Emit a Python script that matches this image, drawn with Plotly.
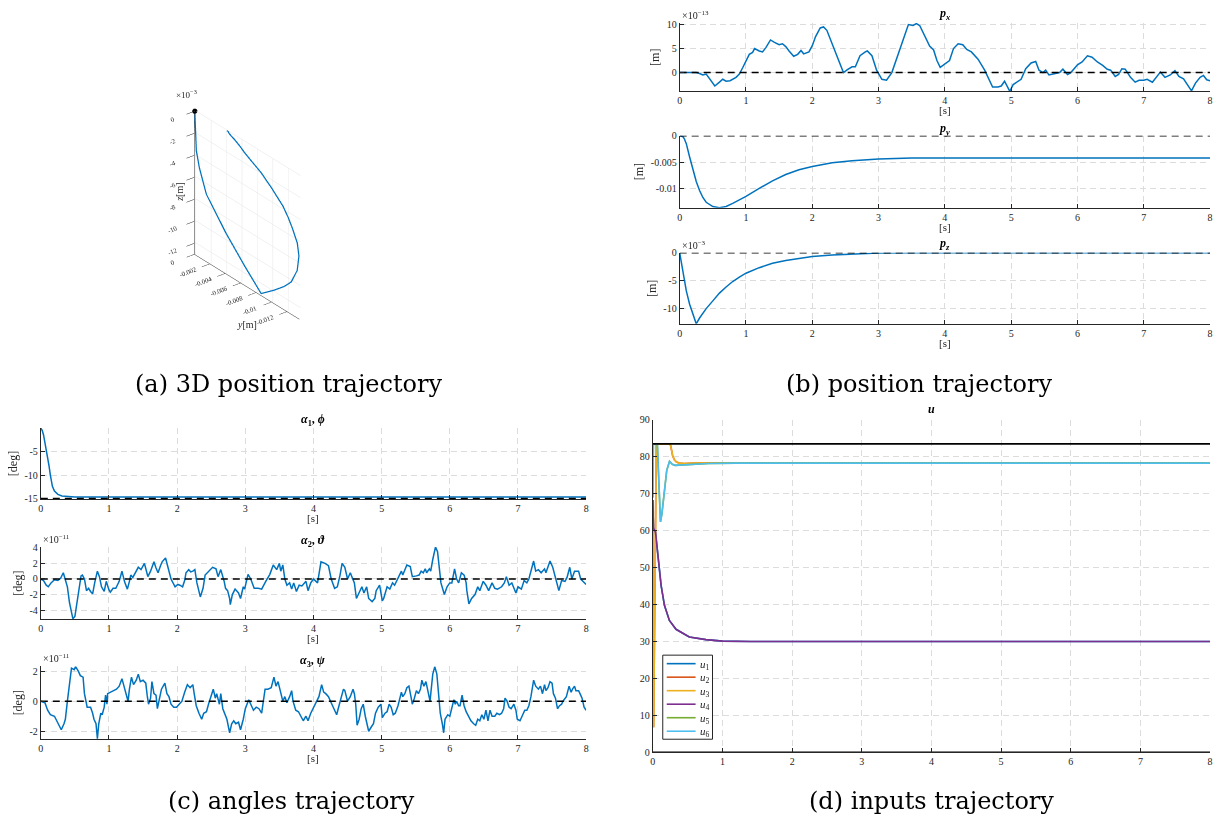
import plotly.graph_objects as go

W, H = 1227, 820
FONT = "Liberation Serif"
CAPFONT = "DejaVu Serif"
TXT = "#262626"
GRID = "#dcdcdc"
BLUE = "#0072BD"
COLORS = ["#0072BD", "#D95319", "#EDB120", "#7E2F8E", "#77AC30", "#4DBEEE"]

# ---------------- data ----------------
x_ticks = [0, 1, 2, 3, 4, 5, 6, 7, 8]

# p_x  (x 1e-13 m)
t_px = [0, 0.1, 0.25, 0.3, 0.35, 0.4, 0.45, 0.53, 0.6, 0.65, 0.7, 0.76, 0.85, 0.9, 0.95, 1.0, 1.05, 1.1, 1.13,
        1.2, 1.25, 1.3, 1.37, 1.43, 1.5, 1.55, 1.6, 1.65, 1.72, 1.78, 1.83, 1.87, 1.95, 2.0, 2.05, 2.12, 2.17,
        2.22, 2.27, 2.35, 2.45, 2.47, 2.53, 2.6, 2.65, 2.72, 2.8, 2.83, 2.9, 2.97, 3.05, 3.12, 3.2, 3.3, 3.4,
        3.45, 3.52, 3.57, 3.62, 3.7, 3.77, 3.83, 3.88, 3.93, 4.0, 4.07, 4.13, 4.2, 4.27, 4.33, 4.4, 4.5, 4.6,
        4.67, 4.72, 4.8, 4.85, 4.9, 4.95, 4.98, 5.03, 5.1, 5.15, 5.22, 5.3, 5.37, 5.42, 5.48, 5.52, 5.57, 5.65,
        5.73, 5.78, 5.85, 5.9, 6.0, 6.07, 6.15, 6.22, 6.3, 6.38, 6.45, 6.5, 6.57, 6.62, 6.67, 6.72, 6.8, 6.87,
        6.93, 7.0, 7.05, 7.13, 7.2, 7.25, 7.32, 7.4, 7.47, 7.53, 7.6, 7.67, 7.72, 7.78, 7.85, 7.9, 7.95, 8.0]
px_e13 = [0, 0, 0, -0.2, -0.5, -0.3, -1.2, -2.8, -2.0, -1.4, -1.8, -1.7, -1.0, -0.3, 1.0, 2.5, 3.8, 4.2, 5.0,
          4.5, 4.3, 5.2, 6.8, 6.3, 5.8, 6.0, 5.4, 4.5, 3.4, 3.8, 4.6, 3.9, 4.3, 5.6, 7.5, 9.3, 9.5,
          8.8, 7.0, 4.0, 0.8, 0.0, 0.6, 1.2, 1.2, 3.5, 4.3, 4.5, 3.5, 0.5, -1.4, -1.6, 0.0, 4.0, 8.0,
          10.0, 9.8, 10.2, 9.8, 7.5, 5.5, 4.7, 2.5, 1.1, 1.8, 2.5, 5.0, 6.0, 5.8, 4.8, 4.3, 2.8, 0.5,
          -1.5, -3.0, -3.0, -2.8, -1.8, -3.0, -3.9, -2.5, -1.8, -1.4, 0.8, 2.0, 2.3, 0.5, 0.0, 0.5, -0.5, -0.3,
          0.0, 0.7, -0.4, 0.0, 1.6, 2.2, 3.5, 3.2, 2.2, 1.5, 0.7, 0.5, -0.8, -0.4, 0.8, 0.7, -1.0, -2.0,
          -1.6, -1.6, -1.4, -2.0, -0.7, 0.1, -1.0, -0.5, 0.4, -0.8, -1.3, -2.8, -3.8, -2.2, -1.0, -0.6, -1.5, -1.7]

# p_y [m], p_z (x 1e-3 m) and p_x (x 1e-13 m) on a common time grid (also used for the 3D plot)
t_pos = [0, 0.05, 0.07, 0.1, 0.15, 0.2, 0.25, 0.3, 0.35, 0.4, 0.5, 0.6, 0.7, 0.8, 0.9, 1.0, 1.2, 1.4, 1.6,
         1.8, 2.0, 2.3, 2.6, 3.0, 3.5, 4.0, 5.0, 6.0, 7.0, 8.0]
py_pos = [0, -0.0002, -0.0006, -0.0015, -0.0040, -0.0065, -0.0086, -0.0103, -0.0116, -0.0125, -0.0133,
          -0.01352, -0.0133, -0.0127, -0.0121, -0.0114, -0.0099, -0.0085, -0.0073, -0.0064, -0.0058,
          -0.0051, -0.0047, -0.0044, -0.0042, -0.0042, -0.0042, -0.0042, -0.0042, -0.0042]
pz_pos_e3 = [0, -3.5, -4.9, -6.9, -9.3, -11.3, -12.85, -11.8, -10.9, -10.1, -8.7, -7.3, -6.2, -5.2, -4.4,
             -3.7, -2.7, -1.9, -1.4, -1.0, -0.7, -0.42, -0.22, -0.06, -0.01, 0, 0, 0, 0, 0]
px_pos_e13 = [0, 0, 0, 0, 0, 0, 0, -0.2, -0.5, -0.3, -2.2, -2.2, -1.6, -1.4, -0.3, 2.5, 4.5, 6.6, 5.4,
              4.2, 5.6, 7.8, 1.2, -0.5, 9.9, 1.8, -3.5, 1.6, -1.6, -1.7]

# alpha_1 [deg]
t_a1 = [0, 0.02, 0.04, 0.06, 0.08, 0.1, 0.12, 0.14, 0.17, 0.2, 0.25, 0.31, 0.4, 0.5, 8.0]
a1 = [-0.05, -0.5, -1.5, -3.0, -4.3, -5.8, -8.0, -10.0, -12.4, -13.4, -14.1, -14.45, -14.6, -14.65, -14.65]

# alpha_2 (x 1e-11 deg)
t_a2 = [0, 0.04, 0.08, 0.11, 0.15, 0.2, 0.25, 0.29, 0.33, 0.36, 0.39, 0.42, 0.45, 0.47, 0.5, 0.53, 0.56,
        0.59, 0.61, 0.64, 0.67, 0.7, 0.73, 0.76, 0.79, 0.83, 0.86, 0.89, 0.93, 0.96, 1.0, 1.02, 1.06, 1.1,
        1.15, 1.19, 1.23, 1.27, 1.3, 1.32, 1.35, 1.39, 1.43, 1.47, 1.52, 1.55, 1.57, 1.61, 1.66, 1.69, 1.72,
        1.76, 1.78, 1.83, 1.87, 1.91, 1.97, 2.01, 2.04, 2.08, 2.11, 2.13, 2.17, 2.2, 2.23, 2.26, 2.29, 2.34,
        2.38, 2.41, 2.52, 2.57, 2.6, 2.64, 2.69, 2.71, 2.74, 2.77, 2.78, 2.81, 2.85, 2.9, 2.93, 2.97, 2.99,
        3.04, 3.08, 3.13, 3.19, 3.24, 3.3, 3.36, 3.41, 3.46, 3.5, 3.52, 3.55, 3.58, 3.61, 3.65, 3.68, 3.71,
        3.75, 3.79, 3.83, 3.89, 3.92, 3.96, 4.0, 4.06, 4.11, 4.17, 4.22, 4.26, 4.31, 4.35, 4.39, 4.42, 4.46,
        4.5, 4.54, 4.58, 4.6, 4.63, 4.67, 4.71, 4.74, 4.78, 4.81, 4.86, 4.9, 4.92, 4.97, 5.01, 5.03, 5.08,
        5.12, 5.16, 5.19, 5.23, 5.26, 5.29, 5.31, 5.37, 5.42, 5.45, 5.51, 5.55, 5.58, 5.61, 5.64, 5.66, 5.7,
        5.72, 5.75, 5.79, 5.82, 5.85, 5.87, 5.92, 5.96, 6.0, 6.03, 6.07, 6.1, 6.13, 6.17, 6.21, 6.24, 6.25,
        6.28, 6.32, 6.37, 6.41, 6.44, 6.49, 6.53, 6.57, 6.62, 6.66, 6.7, 6.76, 6.8, 6.83, 6.87, 6.91, 6.97,
        7.0, 7.05, 7.09, 7.13, 7.16, 7.19, 7.23, 7.26, 7.3, 7.34, 7.39, 7.41, 7.47, 7.51, 7.55, 7.6, 7.64,
        7.69, 7.72, 7.76, 7.79, 7.83, 7.89, 7.92, 8.0]
a2_e11 = [0, -0.2, -0.8, -1.0, -0.5, -0.1, -0.2, 0.1, 0.8, -0.2, -1.0, -3.0, -4.6, -5.1, -4.8, -3.0, -1.0,
          0.4, 0.5, 0.0, -1.5, -1.2, -1.6, -1.9, -0.5, 1.0, 0.3, -1.0, -1.6, -0.3, -1.4, -1.7, -1.2, -1.2,
          -0.3, 1.0, -0.4, -1.3, -0.3, 0.5, 0.2, 0.8, 1.5, 1.2, 2.0, 1.0, 0.3, 1.0, 2.2, 1.4, 0.8,
          1.8, 2.2, 2.7, 1.2, 0.0, -1.0, -0.7, -0.8, -1.0, -0.2, 0.8, 1.2, 0.9, 1.0, 1.2, -0.5, -2.3,
          -1.2, 0.5, 1.5, 1.3, 0.3, 1.2, -0.3, -1.2, -1.5, -2.5, -3.3, -2.0, -1.3, -1.8, -2.5, -1.0, -1.3,
          0.6, 0.0, -1.2, -1.2, -1.3, -0.3, 0.6, 1.8, 1.2, 2.0, 1.0, 1.8, 0.0, -0.8, -0.5, -1.3, -0.5,
          -1.6, -0.8, -0.9, -0.3, -1.5, -0.5, 0.0, -0.5, 2.2, 2.0, 1.7, 0.0, -1.2, -1.0, 0.5, 2.0, 1.5,
          0.0, 0.8, 0.0, -0.5, -2.5, -1.8, -1.0, -1.8, -1.0, -2.5, -2.9, -2.5, -1.5, -0.8, -2.8, -2.5, -1.0,
          -1.3, -0.5, -0.8, 0.0, 0.5, 1.0, 0.5, 1.8, 1.6, 0.3, 0.4, 0.5, 1.0, 0.8, 1.3, 0.8, 1.3,
          1.0, 2.5, 4.1, 3.5, 1.0, -0.5, -2.0, -1.0, -0.5, -0.5, 1.3, 0.0, -0.5, 0.8, 0.5, -0.5, -1.5,
          -3.2, -2.5, -2.0, -1.0, -1.5, -0.3, -0.8, -1.5, -0.5, -1.2, -1.3, -1.0, -0.5, 0.3, -0.8, -0.5, -1.8,
          -1.0, -1.3, -0.2, -0.5, 0.0, 1.0, 2.3, 1.0, 1.2, 0.8, 1.3, 0.8, 2.3, 1.5, 0.0, -1.5, -0.2,
          -0.3, 0.2, 1.5, 0.0, 1.0, 1.0, 0.0, -0.7]

# alpha_3 (x 1e-11 deg)
t_a3 = [0, 0.06, 0.1, 0.14, 0.2, 0.22, 0.27, 0.3, 0.34, 0.36, 0.39, 0.42, 0.45, 0.49, 0.51, 0.55, 0.58, 0.62,
        0.64, 0.68, 0.73, 0.76, 0.78, 0.81, 0.83, 0.85, 0.88, 0.9, 0.93, 0.95, 0.97, 0.98, 1.02, 1.06, 1.11,
        1.15, 1.19, 1.22, 1.25, 1.28, 1.3, 1.33, 1.36, 1.4, 1.43, 1.46, 1.5, 1.54, 1.56, 1.58, 1.61, 1.63,
        1.66, 1.69, 1.71, 1.73, 1.77, 1.82, 1.85, 1.88, 1.91, 1.95, 1.99, 2.03, 2.07, 2.11, 2.15, 2.19, 2.23,
        2.25, 2.28, 2.32, 2.36, 2.39, 2.43, 2.46, 2.51, 2.53, 2.56, 2.58, 2.62, 2.64, 2.67, 2.7, 2.73, 2.77,
        2.8, 2.83, 2.86, 2.9, 2.93, 2.97, 3.0, 3.05, 3.09, 3.12, 3.16, 3.2, 3.24, 3.29, 3.33, 3.38, 3.42,
        3.45, 3.48, 3.51, 3.55, 3.58, 3.61, 3.65, 3.68, 3.7, 3.74, 3.78, 3.82, 3.85, 3.89, 3.92, 3.96, 4.0,
        4.04, 4.08, 4.12, 4.15, 4.18, 4.22, 4.25, 4.3, 4.34, 4.38, 4.41, 4.44, 4.46, 4.5, 4.54, 4.58, 4.6,
        4.62, 4.64, 4.67, 4.7, 4.73, 4.76, 4.78, 4.81, 4.85, 4.88, 4.91, 4.95, 4.99, 5.01, 5.05, 5.08, 5.11,
        5.14, 5.17, 5.2, 5.24, 5.26, 5.29, 5.31, 5.34, 5.37, 5.4, 5.43, 5.45, 5.48, 5.51, 5.54, 5.57, 5.59,
        5.62, 5.65, 5.68, 5.71, 5.75, 5.78, 5.81, 5.83, 5.86, 5.89, 5.91, 5.93, 5.97, 6.0, 6.04, 6.06, 6.08,
        6.1, 6.13, 6.15, 6.18, 6.21, 6.24, 6.28, 6.31, 6.35, 6.38, 6.41, 6.44, 6.47, 6.5, 6.53, 6.56, 6.59,
        6.62, 6.66, 6.69, 6.73, 6.76, 6.79, 6.81, 6.84, 6.87, 6.9, 6.94, 6.97, 6.99, 7.03, 7.06, 7.1, 7.13,
        7.16, 7.19, 7.23, 7.26, 7.3, 7.33, 7.36, 7.39, 7.41, 7.44, 7.47, 7.5, 7.52, 7.55, 7.58, 7.61, 7.64,
        7.66, 7.71, 7.75, 7.78, 7.8, 7.83, 7.85, 7.89, 7.92, 7.94, 7.97, 8.0]
a3_e11 = [0, -0.1, -0.6, -0.9, -1.0, -1.2, -1.6, -1.9, -1.5, -1.2, 0.0, 1.0, 2.2, 2.1, 2.3, 2.0, 1.7, 1.6,
          0.5, -0.4, -0.4, -0.8, -1.2, -1.5, -2.5, -1.5, -0.8, -0.9, -0.4, 0.4, -0.2, 0.5, 0.6, 0.7, 0.8,
          1.0, 1.5, 1.0, 0.4, 0.0, 0.8, 1.6, 1.1, 1.4, 1.8, 1.3, 1.4, 1.2, 0.4, -0.2, 0.2, 1.3,
          0.5, 0.4, -0.5, 0.0, 0.8, 1.2, 0.5, 0.3, -0.2, -0.4, -0.4, -0.2, 0.0, 0.6, 1.1, 0.9, 1.1,
          0.5, -0.3, -0.8, -1.2, -0.8, -0.7, -0.2, 0.6, 0.8, 0.2, 0.5, -0.2, 0.5, -0.5, -0.9, -1.2, -2.1,
          -1.5, -1.3, -1.5, -1.4, -1.9, -1.2, -0.5, 0.1, -0.3, -0.6, -0.4, -0.5, -0.8, 0.8, 0.8, 0.9, 1.6,
          1.0, 1.3, 0.7, 0.0, 0.3, -0.1, 0.3, 0.7, 0.0, -0.6, -0.7, -1.0, -1.3, -1.0, -1.3, -0.8, -0.4,
          -0.1, 0.3, 1.1, 0.6, 0.5, 0.3, 0.0, -0.5, -0.9, -0.2, 0.3, 0.8, 0.7, 0.0, 0.3, 0.8, 0.5,
          -0.2, -1.6, -1.2, -0.5, -0.2, -1.0, -1.5, -2.0, -1.7, -1.5, -0.8, -0.4, -0.2, -1.1, -0.8, -0.7, -0.2,
          -0.4, -0.9, -0.8, -0.3, 0.1, 0.6, 0.3, 0.5, 0.9, 1.0, 0.3, -0.2, 0.2, 0.7, 0.5, 0.8, 1.4,
          1.0, 1.3, 0.7, 0.0, 1.8, 2.3, 1.8, 0.5, -0.8, -1.5, -2.1, -1.2, -0.9, -1.0, -0.3, 0.1, -0.2,
          0.0, -0.3, -0.3, 0.4, -0.3, -0.7, -1.1, -1.3, -1.5, -1.6, -1.2, -1.3, -0.9, -1.2, -0.6, -1.3, -0.6,
          -1.0, -1.0, -0.8, -0.9, -0.8, -0.5, 0.2, 0.0, -0.4, -0.5, -0.2, -0.6, -1.2, -1.3, -1.0, -0.6, -0.6,
          -0.3, 0.3, 1.4, 1.0, 0.8, 1.0, 0.5, 1.1, 0.7, 0.9, 1.3, 1.2, 0.5, 0.2, -0.5, -0.3, -0.2,
          0.0, 0.3, 1.0, 0.6, 0.8, 1.0, 0.7, 0.7, 0.4, 0.2, -0.4, -0.6]

# inputs u
t_u14 = [0, 0.01, 0.038, 0.071, 0.095, 0.119, 0.167, 0.238, 0.333, 0.524, 0.762, 1.0, 1.4, 8.0]
u14 = [68.3, 60.6, 59.7, 54.3, 49.8, 45.2, 39.8, 35.7, 33.3, 31.2, 30.5, 30.1, 30.0, 30.0]
t_u23 = [0, 0.012, 0.05, 0.25, 0.265, 0.285, 0.31, 0.34, 0.38, 0.45, 0.6, 1.0, 8.0]
u23 = [60.0, 6.8, 83.5, 83.5, 82.2, 80.3, 79.2, 78.6, 78.3, 78.2, 78.3, 78.4, 78.4]
t_u56 = [0, 0.008, 0.065, 0.08, 0.095, 0.11, 0.13, 0.167, 0.2, 0.24, 0.28, 0.32, 0.4, 0.55, 0.8, 1.2, 8.0]
u56 = [69.0, 83.5, 83.5, 75.0, 66.0, 62.4, 64.5, 71.0, 76.3, 78.8, 78.0, 77.7, 77.8, 78.0, 78.2, 78.3, 78.3]
u_names = ["u1", "u2", "u3", "u4", "u5", "u6"]
u_series = [(t_u14, u14), (t_u23, u23), (t_u23, u23), (t_u14, u14), (t_u56, u56), (t_u56, u56)]
u_limits = [83.5, 0.0]

refs = {"px": 0.0, "py": 0.0, "pz": 0.0, "a1": -15.0, "a2": 0.0, "a3": 0.0}

# ---------------- helpers ----------------
def Y(y):
    # vertical placement correction for the rendered page
    return (y - 5.5) / 0.9856

def px2x(a):
    return a / W

def px2y(b):
    return 1 - Y(b) / H

def xd(a, b):
    return [a / W, b / W]

def yd(top, bot):
    return [1 - Y(bot) / H, 1 - Y(top) / H]

fig = go.Figure()
annotations = []
shapes = []

def add_panel(i, xpx, ypx, yrange, ytickvals, yticktext, title, ylabel, expo=None, xlabel="[s]",
              title_gap=7):
    fig.layout[f"xaxis{i}"] = dict(
        domain=xd(*xpx), anchor=f"y{i}", range=[0, 8], tickvals=x_ticks,
        ticks="inside", ticklen=4, tickcolor=TXT, showline=True, linecolor=TXT, linewidth=1,
        showgrid=True, gridcolor=GRID, griddash="6px,4px", gridwidth=1, zeroline=False,
        tickfont=dict(family=FONT, size=10, color=TXT),
    )
    fig.layout[f"yaxis{i}"] = dict(
        domain=yd(*ypx), anchor=f"x{i}", range=yrange, tickvals=ytickvals, ticktext=yticktext,
        ticks="inside", ticklen=4, tickcolor=TXT, showline=True, linecolor=TXT, linewidth=1,
        showgrid=True, gridcolor=GRID, griddash="6px,4px", gridwidth=1, zeroline=False,
        tickfont=dict(family=FONT, size=10, color=TXT),
        title=dict(text=ylabel, font=dict(family=FONT, size=12, color=TXT), standoff=4),
    )
    xc = (xpx[0] + xpx[1]) / 2
    annotations.append(dict(text=title, x=px2x(xc), y=px2y(ypx[0] - title_gap), xref="paper", yref="paper",
                            xanchor="center", yanchor="middle", showarrow=False,
                            font=dict(family=FONT, size=12, color="black")))
    if xlabel:
        annotations.append(dict(text=xlabel, x=px2x(xc), y=px2y(ypx[1] + 19), xref="paper", yref="paper",
                                xanchor="center", yanchor="middle", showarrow=False,
                                font=dict(family=FONT, size=11, color=TXT)))
    if expo:
        annotations.append(dict(text=expo, x=px2x(xpx[0]), y=px2y(ypx[0] - 8), xref="paper", yref="paper",
                                xanchor="left", yanchor="middle", showarrow=False,
                                font=dict(family=FONT, size=10, color=TXT)))

def add_line(i, x, y, color=BLUE, width=1.5, dash=None):
    fig.add_trace(go.Scatter(x=x, y=y, mode="lines", xaxis=f"x{i}", yaxis=f"y{i}",
                             line=dict(color=color, width=width, dash=dash),
                             showlegend=False, hoverinfo="skip"))

def add_ref(i, value, t):
    add_line(i, [t[0], t[-1]], [value, value], color="black", width=1.6, dash="7px,5px")

XB = (680, 1213)
XC = (38, 586)

# (b) p_x
add_panel(1, XB, (22.6, 90.7), [-3.9, 10.3], [0, 5, 10], ["0", "5", "10"],
          "<b><i>p<sub>x</sub></i></b>", "[m]", "×10<sup>−13</sup>", title_gap=9)
add_line(1, t_px, px_e13)
add_ref(1, refs["px"], t_px)
# (b) p_y
add_panel(2, XB, (135, 207), [-0.01352, 0], [0, -0.005, -0.01], ["0", "-0.005", "-0.01"],
          "<b><i>p<sub>y</sub></i></b>", "[m]")
add_line(2, t_pos, py_pos)
add_ref(2, refs["py"], t_pos)
# (b) p_z
add_panel(3, XB, (252, 323), [-12.85, 0], [0, -5, -10], ["0", "-5", "-10"],
          "<b><i>p<sub>z</sub></i></b>", "[m]", "×10<sup>−3</sup>", title_gap=9)
add_line(3, t_pos, pz_pos_e3)
add_ref(3, refs["pz"], t_pos)

# (c) angles
add_panel(4, XC, (427, 498), [-15.08, 0], [-15, -10, -5], ["-15", "-10", "-5"],
          "<b><i>α</i><sub>1</sub>, <i>ϕ</i></b>", "[deg]", title_gap=8)
add_line(4, t_a1, a1)
add_ref(4, refs["a1"], t_a1)
add_panel(5, XC, (546, 618), [-5.15, 4.1], [-4, -2, 0, 2, 4], ["-4", "-2", "0", "2", "4"],
          "<b><i>α</i><sub>2</sub>, <i>ϑ</i></b>", "[deg]", "×10<sup>−11</sup>", title_gap=6)
add_line(5, t_a2, a2_e11)
add_ref(5, refs["a2"], t_a2)
add_panel(6, XC, (665, 738), [-2.53, 2.33], [-2, 0, 2], ["-2", "0", "2"],
          "<b><i>α</i><sub>3</sub>, <i>ψ</i></b>", "[deg]", "×10<sup>−11</sup>", title_gap=5)
add_line(6, t_a3, a3_e11)
add_ref(6, refs["a3"], t_a3)

# (d) inputs
add_panel(7, (653, 1213), (419, 751), [0, 90], list(range(0, 91, 10)), [str(v) for v in range(0, 91, 10)],
          "<b><i>u</i></b>", "", None, xlabel=None, title_gap=11)
for k, (tt, uu) in enumerate(u_series):
    add_line(7, tt, uu, color=COLORS[k], width=1.6)
for lim in u_limits:
    add_line(7, [t_u14[0], t_u14[-1]], [lim, lim], color="black", width=1.6)

# legend box for u (drawn as a framed key)
LX0, LX1, LY0, LY1 = 663, 713, 654, 738
shapes.append(dict(type="rect", xref="paper", yref="paper", x0=px2x(LX0), x1=px2x(LX1),
                   y0=px2y(LY1), y1=px2y(LY0), line=dict(color=TXT, width=1), fillcolor="white", layer="above"))
for k in range(6):
    yy = LY0 + 8.5 + k * 13.5
    shapes.append(dict(type="line", xref="paper", yref="paper", x0=px2x(667), x1=px2x(696),
                       y0=px2y(yy), y1=px2y(yy), line=dict(color=COLORS[k], width=1.6), layer="above"))
    annotations.append(dict(text=f"<i>u</i><sub>{k + 1}</sub>", x=px2x(698), y=px2y(yy + 1), xref="paper",
                            yref="paper", xanchor="left", yanchor="middle", showarrow=False,
                            font=dict(family=FONT, size=11, color=TXT)))

# (a) 3D trajectory
fig.add_trace(go.Scatter3d(x=px_pos_e13, y=py_pos, z=pz_pos_e3, mode="lines",
                           line=dict(color=BLUE, width=2.5), showlegend=False, hoverinfo="skip"))
fig.add_trace(go.Scatter3d(x=[px_pos_e13[0]], y=[py_pos[0]], z=[pz_pos_e3[0]], mode="markers",
                           marker=dict(color="black", size=3), showlegend=False, hoverinfo="skip"))

ax3 = dict(showbackground=False, gridcolor="#e4e4e4", gridwidth=1, showline=True, linecolor=TXT,
           linewidth=1, zeroline=False, ticks="outside", ticklen=3, tickcolor=TXT,
           tickfont=dict(family=FONT, size=9, color=TXT), showspikes=False)
ZOOM = 1.31
fig.update_layout(scene=dict(
    domain=dict(x=xd(146, 346), y=yd(84, 344)),
    xaxis=dict(visible=False, range=[-5, 11]),
    yaxis=dict(ax3, range=[-0.0136, 0], tickvals=[0, -0.002, -0.004, -0.006, -0.008, -0.01, -0.012],
               ticktext=["0", "-0.002", "-0.004", "-0.006", "-0.008", "-0.01", "-0.012"],
               title=dict(text="")),
    zaxis=dict(ax3, range=[-13.0, 0], tickvals=[0, -2, -4, -6, -8, -10, -12],
               ticktext=["0", "-2", "-4", "-6", "-8", "-10", "-12"], title=dict(text="")),
    aspectmode="manual", aspectratio=dict(x=0.01 * ZOOM, y=1.0 * ZOOM, z=0.96 * ZOOM),
    camera=dict(projection=dict(type="orthographic"), up=dict(x=0, y=0, z=1),
                center=dict(x=0, y=0, z=0), eye=dict(x=-0.54 * 1.6, y=-0.69 * 1.6, z=0.485 * 1.6)),
    bgcolor="white",
))
annotations.append(dict(text="×10<sup>−3</sup>", x=px2x(172), y=px2y(93), xref="paper", yref="paper",
                        xanchor="left", yanchor="middle", showarrow=False,
                        font=dict(family=FONT, size=9, color=TXT)))
annotations.append(dict(text="<i>z</i>[m]", x=px2x(170), y=px2y(180), xref="paper", yref="paper",
                        textangle=-90, showarrow=False, font=dict(family=FONT, size=10, color=TXT)))
annotations.append(dict(text="<i>y</i>[m]", x=px2x(233), y=px2y(324), xref="paper", yref="paper",
                        showarrow=False, font=dict(family=FONT, size=10, color=TXT)))

# captions
for txt, xc, yc in [("(a) 3D position trajectory", 287, 383), ("(b) position trajectory", 920, 383),
                    ("(c) angles trajectory", 290, 800), ("(d) inputs trajectory", 933, 800)]:
    annotations.append(dict(text=txt, x=px2x(xc), y=px2y(yc), xref="paper", yref="paper",
                            xanchor="center", yanchor="middle", showarrow=False,
                            font=dict(family=CAPFONT, size=24, color="black")))

fig.update_layout(
    width=W, height=H, margin=dict(l=0, r=0, t=0, b=0),
    paper_bgcolor="white", plot_bgcolor="white",
    annotations=annotations, shapes=shapes, showlegend=False,
)
fig.write_html("out.html", config={"displayModeBar": False},
               post_script="document.body.style.margin='0px';")
